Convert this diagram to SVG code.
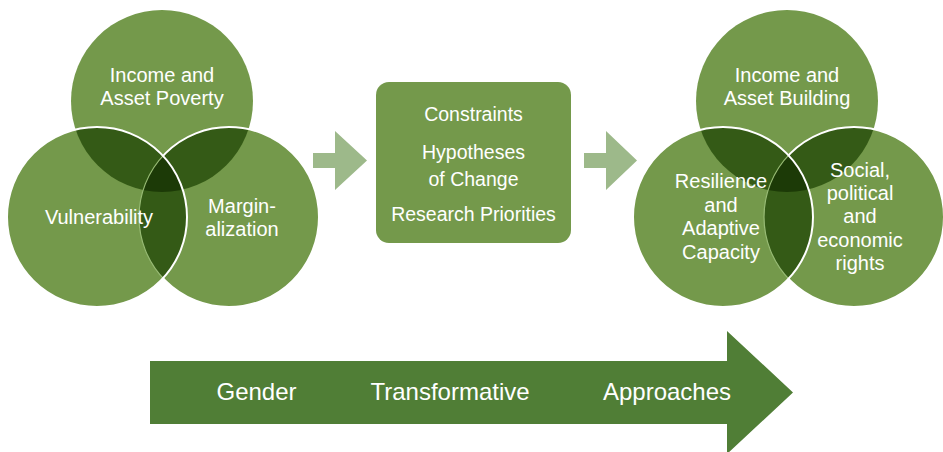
<svg xmlns="http://www.w3.org/2000/svg" width="943" height="452" viewBox="0 0 943 452">
<style>
.c{fill:#74994b}
.p{fill:#345a16}
.t{fill:#1c3a07}
.w{fill:none;stroke:#ffffff;stroke-width:2}
.f{fill:none;stroke:#97ba74;stroke-width:1.2}
.lb{font-family:"Liberation Sans",Arial,sans-serif;font-size:20px;fill:#ffffff;text-anchor:middle}
.bx{font-size:19.5px}
.big{font-family:"Liberation Sans",Arial,sans-serif;font-size:24px;fill:#ffffff;text-anchor:middle}
.sa{fill:#9db98a}
</style>
<defs>
<clipPath id="aT"><circle cx="162" cy="101" r="91"/></clipPath>
<clipPath id="aL"><circle cx="97" cy="217" r="90"/></clipPath>
<clipPath id="aOL"><path clip-rule="evenodd" d="M0 0H943V452H0Z M7 217a90 90 0 1 0 180 0a90 90 0 1 0 -180 0Z"/></clipPath>
<clipPath id="bT"><circle cx="787" cy="101" r="91"/></clipPath>
<clipPath id="bL"><circle cx="723" cy="217" r="90"/></clipPath>
<clipPath id="bOL"><path clip-rule="evenodd" d="M0 0H943V452H0Z M633 217a90 90 0 1 0 180 0a90 90 0 1 0 -180 0Z"/></clipPath>
</defs>

<!-- Left Venn -->
<g id="venn-left">
  <g id="income-asset-poverty"><circle class="c" cx="162" cy="101" r="91"/></g>
  <g id="vulnerability"><circle class="c" cx="97" cy="217" r="90"/></g>
  <g id="marginalization"><circle class="c" cx="229" cy="217" r="90"/></g>
  <g id="left-overlaps">
    <circle class="p" cx="97" cy="217" r="90" clip-path="url(#aT)"/>
    <circle class="p" cx="229" cy="217" r="90" clip-path="url(#aT)"/>
    <circle class="p" cx="229" cy="217" r="90" clip-path="url(#aL)"/>
    <g clip-path="url(#aT)"><circle class="t" cx="229" cy="217" r="90" clip-path="url(#aL)"/></g>
    <circle class="f" cx="229" cy="217" r="90" clip-path="url(#aL)"/>
    <circle class="w" cx="229" cy="217" r="90" clip-path="url(#aOL)"/>
    <circle class="w" cx="97" cy="217" r="90"/>
  </g>
  <text class="lb" x="162" y="82">Income and</text>
  <text class="lb" x="162" y="105">Asset Poverty</text>
  <text class="lb" x="99" y="224">Vulnerability</text>
  <text class="lb" x="242" y="213">Margin-</text>
  <text class="lb" x="242" y="236">alization</text>
</g>

<!-- Connectors -->
<g id="connectors">
  <polygon id="arrow-1" class="sa" points="313,153 335,153 335,131 367,160.5 335,190 335,168 313,168"/>
  <polygon id="arrow-2" class="sa" points="584,153 606,153 606,131 637,160.5 606,190 606,168 584,168"/>
</g>

<!-- Center box -->
<g id="center-box">
  <rect class="c" x="376" y="82" width="195" height="161" rx="13" ry="13"/>
  <text class="lb bx" x="473.5" y="121">Constraints</text>
  <text class="lb bx" x="473.5" y="159">Hypotheses</text>
  <text class="lb bx" x="473.5" y="186">of Change</text>
  <text class="lb bx" x="473.5" y="221">Research Priorities</text>
</g>

<!-- Right Venn -->
<g id="venn-right">
  <g id="income-asset-building"><circle class="c" cx="787" cy="101" r="91"/></g>
  <g id="resilience"><circle class="c" cx="723" cy="217" r="90"/></g>
  <g id="rights"><circle class="c" cx="854" cy="217" r="90"/></g>
  <g id="right-overlaps">
    <circle class="p" cx="723" cy="217" r="90" clip-path="url(#bT)"/>
    <circle class="p" cx="854" cy="217" r="90" clip-path="url(#bT)"/>
    <circle class="p" cx="854" cy="217" r="90" clip-path="url(#bL)"/>
    <g clip-path="url(#bT)"><circle class="t" cx="854" cy="217" r="90" clip-path="url(#bL)"/></g>
    <circle class="f" cx="854" cy="217" r="90" clip-path="url(#bL)"/>
    <circle class="w" cx="854" cy="217" r="90" clip-path="url(#bOL)"/>
    <circle class="w" cx="723" cy="217" r="90"/>
  </g>
  <text class="lb" x="787" y="82">Income and</text>
  <text class="lb" x="787" y="105">Asset Building</text>
  <text class="lb" x="721" y="188">Resilience</text>
  <text class="lb" x="721" y="212">and</text>
  <text class="lb" x="721" y="235">Adaptive</text>
  <text class="lb" x="721" y="259">Capacity</text>
  <text class="lb" x="860" y="177">Social,</text>
  <text class="lb" x="860" y="200">political</text>
  <text class="lb" x="860" y="223">and</text>
  <text class="lb" x="860" y="247">economic</text>
  <text class="lb" x="860" y="270">rights</text>
</g>

<!-- Big arrow -->
<g id="gender-transformative-approaches">
  <polygon fill="#507e36" points="150,361 727,361 727,331 793,392.5 727,454 727,424 150,424"/>
  <text class="big" x="256.5" y="400">Gender</text>
  <text class="big" x="450" y="400">Transformative</text>
  <text class="big" x="667" y="400">Approaches</text>
</g>
</svg>
